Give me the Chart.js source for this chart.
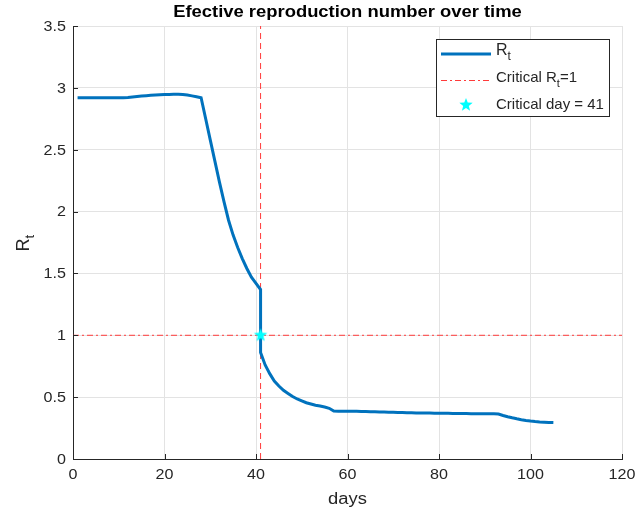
<!DOCTYPE html>
<html>
<head>
<meta charset="utf-8">
<title>Rt over time</title>
<script src="https://cdn.jsdelivr.net/npm/chart.js@4.4.1/dist/chart.umd.min.js"></script>
<style>
  html, body { margin: 0; padding: 0; background: #fff; }
  #wrap { width: 637px; height: 514px; }
</style>
</head>
<body>
<div id="wrap"><canvas id="myChart" width="637" height="514"></canvas></div>
<script>
// daily effective reproduction number (day 41 listed twice for the jump)
const days = [
  1, 2, 3, 4, 5, 6, 7, 8, 9, 10,
  11, 12, 13, 14, 15, 16, 17, 18, 19, 20,
  21, 22, 23, 24, 25, 26, 27, 28, 29, 30,
  31, 32, 33, 34, 35, 36, 37, 38, 39, 40,
  41, 41, 42, 43, 44, 45, 46, 47, 48, 49, 50,
  51, 52, 53, 54, 55, 56, 57, 58, 59, 60,
  61, 62, 63, 64, 65, 66, 67, 68, 69, 70,
  71, 72, 73, 74, 75, 76, 77, 78, 79, 80,
  81, 82, 83, 84, 85, 86, 87, 88, 89, 90,
  91, 92, 93, 94, 95, 96, 97, 98, 99, 100,
  101, 102, 103, 104, 105,
];
const rt = [
  2.92, 2.92, 2.92, 2.92, 2.92, 2.92, 2.92, 2.92, 2.92, 2.92,
  2.921, 2.923, 2.927, 2.931, 2.934, 2.937, 2.94, 2.942, 2.944, 2.946,
  2.947, 2.948, 2.948, 2.946, 2.942, 2.935, 2.928, 2.92, 2.75, 2.58,
  2.41, 2.24, 2.08, 1.93, 1.81, 1.71, 1.62, 1.54, 1.47, 1.42,
  1.37, 0.86, 0.76, 0.69, 0.63, 0.59, 0.555, 0.53, 0.505, 0.485, 0.47,
  0.455, 0.445, 0.435, 0.428, 0.42, 0.41, 0.387, 0.386, 0.386, 0.386,
  0.385, 0.385, 0.384, 0.383, 0.382, 0.381, 0.38, 0.379, 0.378, 0.377,
  0.376, 0.375, 0.374, 0.373, 0.372, 0.372, 0.371, 0.371, 0.37, 0.37,
  0.369, 0.369, 0.368, 0.368, 0.367, 0.367, 0.366, 0.366, 0.366, 0.365,
  0.365, 0.365, 0.364, 0.352, 0.342, 0.333, 0.325, 0.318, 0.312, 0.307,
  0.303, 0.300, 0.298, 0.296, 0.295,
];
const criticalDay = 41;
const criticalRt = 1;
const xTicks = [0, 20, 40, 60, 80, 100, 120];
const yTicks = [0, 0.5, 1, 1.5, 2, 2.5, 3, 3.5];

const blue = '#0072bd';
const red = '#ff3b3b';
const cyan = '#00ffff';
const ink = '#262626';
const font = '"Liberation Sans", Arial, sans-serif';
const stretch = 1.15; // text is a bit wider than plain Arial

// filled five point star used as the marker
function makeStar(r, color) {
  const c = document.createElement('canvas');
  c.width = c.height = r * 2 + 2;
  const g = c.getContext('2d');
  g.beginPath();
  for (let i = 0; i < 10; i++) {
    const rad = i % 2 === 0 ? r : r * 0.42;
    const a = -Math.PI / 2 + i * Math.PI / 5;
    const px = r + 1 + rad * Math.cos(a);
    const py = r + 1 + rad * Math.sin(a);
    if (i === 0) g.moveTo(px, py); else g.lineTo(px, py);
  }
  g.closePath();
  g.fillStyle = color;
  g.fill();
  return c;
}
const star = makeStar(7, cyan);

// stretched text, anchored at x according to align
function wideText(g, text, x, y, css, align) {
  g.save();
  g.font = css;
  g.textAlign = 'left';
  const w = g.measureText(text).width * stretch;
  const x0 = align === 'center' ? x - w / 2 : align === 'right' ? x - w : x;
  g.translate(x0, y);
  g.scale(stretch, 1);
  g.fillText(text, 0, 0);
  g.restore();
}

// text with a subscript part, e.g. R + t
function subText(g, parts, x, y, size) {
  let cx = x;
  parts.forEach(p => {
    if (p.sub) {
      g.font = `${Math.round(size * 0.72)}px ${font}`;
      g.fillText(p.t, cx, y + size * 0.38);
    } else {
      g.font = `${size}px ${font}`;
      g.fillText(p.t, cx, y);
    }
    cx += g.measureText(p.t).width;
  });
  return cx;
}

const decor = {
  id: 'decor',
  afterDraw(chart) {
    const g = chart.ctx;
    const { left, right, top, bottom } = chart.chartArea;
    const xs = chart.scales.x;
    const ys = chart.scales.y;
    g.save();

    // inward tick marks
    g.strokeStyle = ink;
    g.lineWidth = 1;
    g.beginPath();
    xTicks.forEach(v => {
      const px = Math.round(xs.getPixelForValue(v)) + 0.5;
      g.moveTo(px, bottom);
      g.lineTo(px, bottom - 5);
    });
    yTicks.forEach(v => {
      const py = Math.round(ys.getPixelForValue(v)) + 0.5;
      g.moveTo(left, py);
      g.lineTo(left + 5, py);
    });
    g.stroke();

    // tick labels
    g.fillStyle = ink;
    g.textBaseline = 'middle';
    xTicks.forEach(v => {
      wideText(g, String(v), xs.getPixelForValue(v), bottom + 16, `14px ${font}`, 'center');
    });
    yTicks.forEach(v => {
      wideText(g, String(v), left - 7, ys.getPixelForValue(v) + 1, `14px ${font}`, 'right');
    });

    // title and axis labels
    g.fillStyle = '#000';
    wideText(g, 'Efective reproduction number over time', (left + right) / 2, 13, `bold 16px ${font}`, 'center');

    g.fillStyle = ink;
    wideText(g, 'days', (left + right) / 2, 500, `16px ${font}`, 'center');

    g.save();
    g.translate(24, (top + bottom) / 2);
    g.rotate(-Math.PI / 2);
    g.textAlign = 'left';
    subText(g, [{ t: 'R' }, { t: 't', sub: true }], -9, 0, 18);
    g.restore();

    // legend box
    const bx = 436.5, by = 39.5, bw = 173, bh = 77;
    g.fillStyle = '#fff';
    g.fillRect(bx, by, bw, bh);
    g.strokeStyle = ink;
    g.lineWidth = 1;
    g.strokeRect(bx, by, bw, bh);

    const rows = [54, 80, 105];
    g.strokeStyle = blue;
    g.lineWidth = 3;
    g.beginPath();
    g.moveTo(441, rows[0]);
    g.lineTo(491, rows[0]);
    g.stroke();

    g.strokeStyle = red;
    g.lineWidth = 1;
    g.setLineDash([6, 3, 2, 3]);
    g.beginPath();
    g.moveTo(441, rows[1] + 0.5);
    g.lineTo(491, rows[1] + 0.5);
    g.stroke();
    g.setLineDash([]);

    g.drawImage(star, 466 - star.width / 2, rows[2] - star.height / 2);

    g.fillStyle = ink;
    g.textAlign = 'left';
    subText(g, [{ t: 'R' }, { t: 't', sub: true }], 496, rows[0] - 3, 16);
    subText(g, [{ t: 'Critical R' }, { t: 't', sub: true }, { t: '=1' }], 496, rows[1] - 2, 15);
    subText(g, [{ t: 'Critical day = 41' }], 496, rows[2], 15);

    g.restore();
  },
};

const ctx = document.getElementById('myChart');
new Chart(ctx, {
  type: 'line',
  data: {
    datasets: [
      {
        label: 'Critical day = 41',
        data: [{ x: criticalDay, y: criticalRt }],
        showLine: false,
        pointStyle: star,
        pointRadius: 7,
        order: 0,
      },
      {
        label: 'Rt',
        data: days.map((d, i) => ({ x: d, y: rt[i] })),
        borderColor: blue,
        borderWidth: 3,
        pointRadius: 0,
        tension: 0,
        order: 1,
      },
      {
        label: 'Critical Rt=1',
        data: [{ x: xTicks[0], y: criticalRt }, { x: xTicks[xTicks.length - 1], y: criticalRt }],
        borderColor: red,
        borderWidth: 1,
        borderDash: [6, 3, 2, 3],
        pointRadius: 0,
        order: 2,
      },
      {
        label: 'day 41',
        data: [{ x: criticalDay, y: yTicks[0] }, { x: criticalDay, y: yTicks[yTicks.length - 1] }],
        borderColor: red,
        borderWidth: 1,
        borderDash: [6, 4],
        pointRadius: 0,
        order: 2,
      },
    ],
  },
  options: {
    responsive: false,
    animation: false,
    layout: { padding: { left: 0, top: 26, right: 15, bottom: 0 } },
    plugins: {
      legend: { display: false },
      tooltip: { enabled: false },
    },
    scales: {
      x: {
        type: 'linear',
        min: 0,
        max: 120,
        afterBuildTicks: s => { s.ticks = xTicks.map(v => ({ value: v })); },
        afterFit: s => { s.height = 55; },
        grid: { color: '#e3e3e3', drawTicks: false },
        border: { color: ink, width: 1 },
        ticks: { display: false },
      },
      y: {
        type: 'linear',
        min: 0,
        max: 3.5,
        afterBuildTicks: s => { s.ticks = yTicks.map(v => ({ value: v })); },
        afterFit: s => { s.width = 73; },
        grid: { color: '#e3e3e3', drawTicks: false },
        border: { color: ink, width: 1 },
        ticks: { display: false },
      },
    },
  },
  plugins: [decor],
});
</script>
</body>
</html>
